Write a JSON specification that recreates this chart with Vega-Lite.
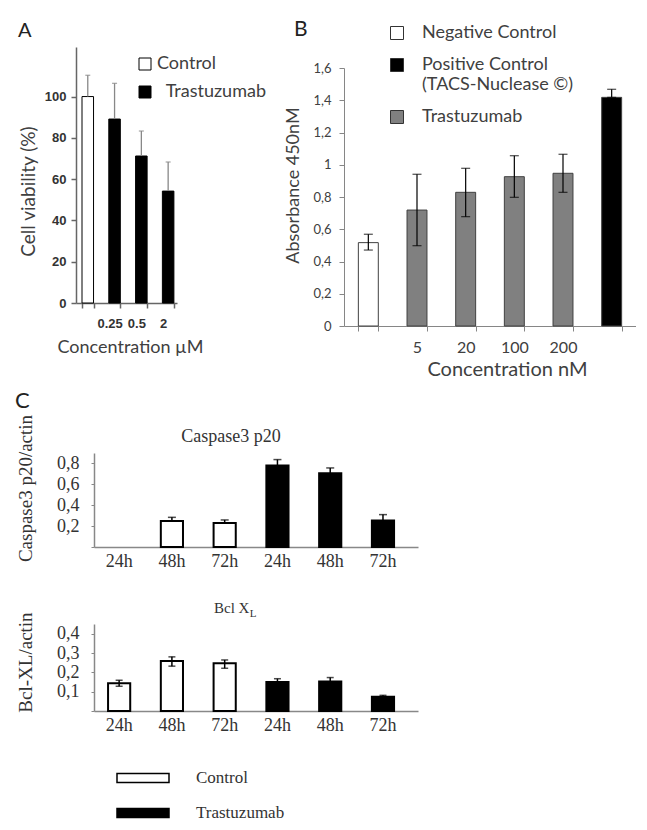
{
  "$schema": "https://vega.github.io/schema/vega-lite/v6.json",
  "background": "white",
  "padding": {"left": 15, "top": 19, "right": 0, "bottom": 0},
  "bounds": "flush",
  "spacing": 406,
  "resolve": {"scale": {"fill": "independent"}, "legend": {"fill": "independent"}},
  "config": {
    "view": {"stroke": null},
    "axis": {"grid": false, "labelOverlap": false},
    "legend": {"padding": 0}
  },
  "datasets": {
    "viability": [
      {"conc": "Control", "group": "Control", "viability": 100, "upper": 110.3},
      {"conc": "0.25", "group": "Trastuzumab", "viability": 89.1, "upper": 106.4},
      {"conc": "0.5", "group": "Trastuzumab", "viability": 71.2, "upper": 83.3},
      {"conc": "2", "group": "Trastuzumab", "viability": 54.2, "upper": 68.3}
    ],
    "absorbance": [
      {"conc": "Negative", "group": "Negative Control", "absorbance": 0.517, "lower": 0.471, "upper": 0.569},
      {"conc": "5", "group": "Trastuzumab", "absorbance": 0.719, "lower": 0.498, "upper": 0.941},
      {"conc": "20", "group": "Trastuzumab", "absorbance": 0.829, "lower": 0.678, "upper": 0.978},
      {"conc": "100", "group": "Trastuzumab", "absorbance": 0.926, "lower": 0.798, "upper": 1.056},
      {"conc": "200", "group": "Trastuzumab", "absorbance": 0.947, "lower": 0.829, "upper": 1.065},
      {"conc": "Positive", "group": "Positive Control (TACS-Nuclease ©)", "absorbance": 1.418, "lower": 1.418, "upper": 1.468}
    ],
    "caspase": [
      {"sample": "Control 48h", "group": "Control", "ratio": 0.249, "upper": 0.284},
      {"sample": "Control 72h", "group": "Control", "ratio": 0.23, "upper": 0.259},
      {"sample": "Trastuzumab 24h", "group": "Trastuzumab", "ratio": 0.78, "upper": 0.837},
      {"sample": "Trastuzumab 48h", "group": "Trastuzumab", "ratio": 0.706, "upper": 0.757},
      {"sample": "Trastuzumab 72h", "group": "Trastuzumab", "ratio": 0.253, "upper": 0.31}
    ],
    "bcl": [
      {"sample": "Control 24h", "group": "Control", "ratio": 0.143, "lower": 0.128, "upper": 0.159},
      {"sample": "Control 48h", "group": "Control", "ratio": 0.259, "lower": 0.232, "upper": 0.28},
      {"sample": "Control 72h", "group": "Control", "ratio": 0.247, "lower": 0.221, "upper": 0.264},
      {"sample": "Trastuzumab 24h", "group": "Trastuzumab", "ratio": 0.15, "lower": 0.133, "upper": 0.167},
      {"sample": "Trastuzumab 48h", "group": "Trastuzumab", "ratio": 0.152, "lower": 0.131, "upper": 0.173},
      {"sample": "Trastuzumab 72h", "group": "Trastuzumab", "ratio": 0.074, "lower": 0.067, "upper": 0.081}
    ]
  },
  "vconcat": [
    {
      "bounds": "flush",
      "spacing": 167,
      "resolve": {"scale": {"fill": "independent"}, "legend": {"fill": "independent"}},
      "hconcat": [
        {
          "width": 101,
          "height": 256,
          "title": {"text": "A", "anchor": "start", "frame": "group", "dx": -58, "offset": 6, "font": "Lato", "fontSize": 20, "fontWeight": "normal", "color": "#222"},
          "data": {"name": "viability"},
          "encoding": {
            "x": {
              "field": "conc", "type": "nominal", "sort": null,
              "scale": {"paddingInner": 0.57, "paddingOuter": 0.17, "align": 0.66},
              "axis": {
                "title": "Concentration µM", "titleX": 54, "titleFont": "Lato", "titleFontSize": 18, "titleFontWeight": "normal", "titleColor": "#404040", "titlePadding": 8,
                "labelExpr": "datum.label == 'Control' ? '' : datum.label", "labelAngle": 0, "labelOffset": -5,
                "labelFont": "Liberation Sans", "labelFontWeight": "bold", "labelFontSize": 13, "labelColor": "#333", "labelPadding": 9,
                "tickBand": "extent", "tickSize": 5, "tickColor": "#666", "domainColor": "#666", "domainWidth": 1.5, "tickWidth": 1.5
              }
            }
          },
          "layer": [
            {
              "mark": {"type": "bar", "stroke": "black", "strokeWidth": 1},
              "encoding": {
                "y": {
                  "field": "viability", "type": "quantitative",
                  "scale": {"domain": [0, 124], "nice": false},
                  "axis": {
                    "title": "Cell viability (%)", "titleY": 144, "titleFont": "Lato", "titleFontSize": 19, "titleFontWeight": "normal", "titleColor": "#404040", "titlePadding": 6,
                    "values": [0, 20, 40, 60, 80, 100], "tickCount": 20,
                    "labelFont": "Liberation Sans", "labelFontWeight": "bold", "labelFontSize": 13, "labelColor": "#333", "labelPadding": 5,
                    "tickSize": 5, "tickColor": "#666", "tickWidth": 1.5, "domainColor": "#666", "domainWidth": 1.5
                  }
                },
                "fill": {
                  "field": "group", "type": "nominal",
                  "scale": {"domain": ["Control", "Trastuzumab"], "range": ["white", "black"]},
                  "legend": {
                    "title": null, "orient": "none", "legendX": 60, "legendY": 8,
                    "symbolType": "square", "symbolSize": 144, "symbolStrokeColor": "black", "symbolStrokeWidth": 1,
                    "labelFont": "Lato", "labelFontSize": 18, "labelColor": "#404040", "labelOffset": 3, "rowPadding": 10,
                    "labelExpr": "datum.label == 'Trastuzumab' ? '\u200b\u00a0\u00a0Trastuzumab' : datum.label"
                  }
                }
              }
            },
            {
              "mark": {"type": "rule", "color": "#888", "strokeWidth": 1.3},
              "encoding": {
                "y": {"field": "viability", "type": "quantitative", "scale": {"domain": [0, 124], "nice": false}},
                "y2": {"field": "upper"}
              }
            },
            {
              "mark": {"type": "tick", "orient": "horizontal", "color": "#888", "size": 5, "thickness": 1.3},
              "encoding": {
                "y": {"field": "upper", "type": "quantitative", "scale": {"domain": [0, 124], "nice": false}}
              }
            }
          ]
        },
        {
          "bounds": "flush",
          "spacing": 20,
          "vconcat": [
            {
              "width": 292,
              "height": 1,
              "data": {"values": [{"spacer": 1}]},
              "mark": {"type": "point", "opacity": 0},
              "encoding": {}
            },
            {
              "width": 292,
              "height": 258,
              "title": {"text": "B", "anchor": "start", "frame": "group", "dx": -50, "offset": 22, "font": "Lato", "fontSize": 21, "fontWeight": "normal", "color": "#222"},
              "data": {"name": "absorbance"},
              "encoding": {
                "x": {
                  "field": "conc", "type": "nominal", "sort": null,
                  "scale": {"paddingInner": 0.59, "paddingOuter": 0.295},
                  "axis": {
                    "title": "Concentration nM", "titleX": 163, "titleFont": "Lato", "titleFontSize": 20, "titleFontWeight": "normal", "titleColor": "#404040", "titlePadding": 4,
                    "labelExpr": "datum.label == 'Negative' || datum.label == 'Positive' ? '' : datum.label", "labelAngle": 0,
                    "labelFont": "Lato", "labelFontSize": 16, "labelColor": "#404040", "labelPadding": 8,
                    "tickBand": "extent", "tickSize": 5, "tickColor": "#868686", "domainColor": "#868686"
                  }
                }
              },
              "layer": [
                {
                  "mark": {"type": "bar", "stroke": "#404040", "strokeWidth": 1},
                  "encoding": {
                    "y": {
                      "field": "absorbance", "type": "quantitative",
                      "scale": {"domain": [0, 1.6], "nice": false},
                      "axis": {
                        "title": "Absorbance 450nM", "titleY": 117, "titleFont": "Lato", "titleFontSize": 18, "titleFontWeight": "normal", "titleColor": "#404040", "titlePadding": 10,
                        "values": [0, 0.2, 0.4, 0.6, 0.8, 1, 1.2, 1.4, 1.6], "tickCount": 20,
                        "labelExpr": "replace(format(datum.value, '~g'), '.', ',')",
                        "labelFont": "Lato", "labelFontSize": 13, "labelColor": "#404040", "labelPadding": 8,
                        "tickSize": 5, "tickColor": "#868686", "domainColor": "#868686"
                      }
                    },
                    "fill": {
                      "field": "group", "type": "nominal",
                      "scale": {"domain": ["Negative Control", "Positive Control (TACS-Nuclease ©)", "Trastuzumab"], "range": ["white", "black", "#808080"]},
                      "legend": {
                        "title": null, "orient": "none", "legendX": 44, "legendY": -23,
                        "symbolType": "square", "symbolSize": 169, "symbolStrokeColor": "#333", "symbolStrokeWidth": 1,
                        "labelFont": "Lato", "labelFontSize": 18, "labelColor": "#404040", "labelOffset": 16, "rowPadding": 14, "labelLimit": 300,
                        "labelExpr": "datum.label == 'Positive Control (TACS-Nuclease ©)' ? ['Positive Control', '(TACS-Nuclease ©)'] : datum.label"
                      }
                    }
                  }
                },
                {
                  "mark": {"type": "rule", "color": "black", "strokeWidth": 1.2},
                  "encoding": {
                    "y": {"field": "lower", "type": "quantitative", "scale": {"domain": [0, 1.6], "nice": false}},
                    "y2": {"field": "upper"}
                  }
                },
                {
                  "mark": {"type": "tick", "orient": "horizontal", "color": "black", "size": 9, "thickness": 1.2},
                  "encoding": {
                    "y": {"field": "upper", "type": "quantitative", "scale": {"domain": [0, 1.6], "nice": false}}
                  }
                },
                {
                  "mark": {"type": "tick", "orient": "horizontal", "color": "black", "size": 9, "thickness": 1.2},
                  "encoding": {
                    "y": {"field": "lower", "type": "quantitative", "scale": {"domain": [0, 1.6], "nice": false}}
                  }
                }
              ]
            }
          ]
        }
      ]
    },
    {
      "bounds": "flush",
      "spacing": 17,
      "hconcat": [
        {
          "width": 1,
          "height": 1,
          "data": {"values": [{"spacer": 1}]},
          "mark": {"type": "point", "opacity": 0},
          "encoding": {}
        },
        {
          "bounds": "flush",
          "spacing": 77,
          "resolve": {"scale": {"fill": "independent"}, "legend": {"fill": "independent"}},
          "title": {"text": "C", "anchor": "start", "frame": "group", "dx": -79, "offset": 1, "font": "Lato", "fontSize": 22, "fontWeight": "normal", "color": "#222"},
          "vconcat": [
            {
              "width": 324,
              "height": 94,
              "title": {"text": "Caspase3 p20", "anchor": "middle", "frame": "group", "dx": -25, "offset": -32, "font": "Liberation Serif", "fontSize": 18, "fontWeight": "normal", "color": "#333"},
              "data": {"name": "caspase"},
              "encoding": {
                "x": {
                  "field": "sample", "type": "nominal",
                  "scale": {"domain": ["Control 24h", "Control 48h", "Control 72h", "Trastuzumab 24h", "Trastuzumab 48h", "Trastuzumab 72h"], "paddingInner": 0.58, "paddingOuter": 0.36, "align": 0.37},
                  "axis": {
                    "title": null, "labelExpr": "split(datum.label, ' ')[1]", "labelAngle": 0, "ticks": false,
                    "labelFont": "Liberation Serif", "labelFontSize": 18, "labelColor": "#333", "labelPadding": 5,
                    "domainColor": "#888", "domainWidth": 1.5
                  }
                }
              },
              "layer": [
                {
                  "mark": {"type": "bar", "stroke": "black", "strokeWidth": 2},
                  "encoding": {
                    "y": {
                      "field": "ratio", "type": "quantitative",
                      "scale": {"domain": [0, 0.9], "nice": false},
                      "axis": {
                        "title": "Caspase3 p20/actin", "titleY": 35, "titleFont": "Liberation Serif", "titleFontSize": 19, "titleFontWeight": "normal", "titleColor": "#333", "titlePadding": 21,
                        "values": [0, 0.2, 0.4, 0.6, 0.8], "tickCount": 20,
                        "labelExpr": "datum.value == 0 ? '' : replace(format(datum.value, '~g'), '.', ',')",
                        "labelFont": "Liberation Serif", "labelFontSize": 18, "labelColor": "#333", "labelPadding": 12,
                        "tickSize": 3, "tickColor": "#888", "domainColor": "#888", "domainWidth": 1.5
                      }
                    },
                    "fill": {
                      "field": "group", "type": "nominal",
                      "scale": {"domain": ["Control", "Trastuzumab"], "range": ["white", "black"]},
                      "legend": null
                    }
                  }
                },
                {
                  "mark": {"type": "rule", "color": "black", "strokeWidth": 1.5},
                  "encoding": {
                    "y": {"field": "ratio", "type": "quantitative", "scale": {"domain": [0, 0.9], "nice": false}},
                    "y2": {"field": "upper"}
                  }
                },
                {
                  "mark": {"type": "tick", "orient": "horizontal", "color": "black", "size": 8, "thickness": 1.5},
                  "encoding": {
                    "y": {"field": "upper", "type": "quantitative", "scale": {"domain": [0, 0.9], "nice": false}}
                  }
                }
              ]
            },
            {
              "width": 324,
              "height": 87,
              "title": {
                "text": "Bcl X", "subtitle": "\u200b\u00a0\u00a0\u00a0\u00a0\u00a0\u00a0\u00a0\u00a0\u00a0\u00a0\u00a0\u00a0\u00a0L",
                "anchor": "start", "frame": "group", "dx": 120, "offset": -7,
                "font": "Liberation Serif", "fontSize": 15, "fontWeight": "normal", "color": "#333",
                "subtitleFont": "Liberation Serif", "subtitleFontSize": 11, "subtitleColor": "#333", "subtitlePadding": -8
              },
              "data": {"name": "bcl"},
              "encoding": {
                "x": {
                  "field": "sample", "type": "nominal",
                  "scale": {"domain": ["Control 24h", "Control 48h", "Control 72h", "Trastuzumab 24h", "Trastuzumab 48h", "Trastuzumab 72h"], "paddingInner": 0.58, "paddingOuter": 0.36, "align": 0.37},
                  "axis": {
                    "title": null, "labelExpr": "split(datum.label, ' ')[1]", "labelAngle": 0, "ticks": false,
                    "labelFont": "Liberation Serif", "labelFontSize": 18, "labelColor": "#333", "labelPadding": 5,
                    "domainColor": "#888", "domainWidth": 1.5
                  }
                }
              },
              "layer": [
                {
                  "mark": {"type": "bar", "stroke": "black", "strokeWidth": 2},
                  "encoding": {
                    "y": {
                      "field": "ratio", "type": "quantitative",
                      "scale": {"domain": [0, 0.45], "nice": false},
                      "axis": {
                        "title": "Bcl-XL/actin", "titleY": 38, "titleFont": "Liberation Serif", "titleFontSize": 19, "titleFontWeight": "normal", "titleColor": "#333", "titlePadding": 21,
                        "values": [0, 0.1, 0.2, 0.3, 0.4], "tickCount": 20,
                        "labelExpr": "datum.value == 0 ? '' : replace(format(datum.value, '~g'), '.', ',')",
                        "labelFont": "Liberation Serif", "labelFontSize": 18, "labelColor": "#333", "labelPadding": 12,
                        "tickSize": 3, "tickColor": "#888", "domainColor": "#888", "domainWidth": 1.5
                      }
                    },
                    "fill": {
                      "field": "group", "type": "nominal",
                      "scale": {"domain": ["Control", "Trastuzumab"], "range": ["white", "black"]},
                      "legend": {
                        "title": null, "orient": "none", "legendX": 22, "legendY": 127,
                        "symbolType": "M-1,-0.17L1,-0.17L1,0.17L-1,0.17Z", "symbolSize": 2704, "symbolStrokeColor": "black", "symbolStrokeWidth": 1.5,
                        "labelFont": "Liberation Serif", "labelFontSize": 17, "labelColor": "#333", "labelOffset": 26, "rowPadding": -5
                      }
                    }
                  }
                },
                {
                  "mark": {"type": "rule", "color": "black", "strokeWidth": 1.5},
                  "encoding": {
                    "y": {"field": "lower", "type": "quantitative", "scale": {"domain": [0, 0.45], "nice": false}},
                    "y2": {"field": "upper"}
                  }
                },
                {
                  "mark": {"type": "tick", "orient": "horizontal", "color": "black", "size": 7, "thickness": 1.5},
                  "encoding": {
                    "y": {"field": "upper", "type": "quantitative", "scale": {"domain": [0, 0.45], "nice": false}}
                  }
                },
                {
                  "mark": {"type": "tick", "orient": "horizontal", "color": "black", "size": 7, "thickness": 1.5},
                  "encoding": {
                    "y": {"field": "lower", "type": "quantitative", "scale": {"domain": [0, 0.45], "nice": false}}
                  }
                }
              ]
            }
          ]
        }
      ]
    }
  ]
}
